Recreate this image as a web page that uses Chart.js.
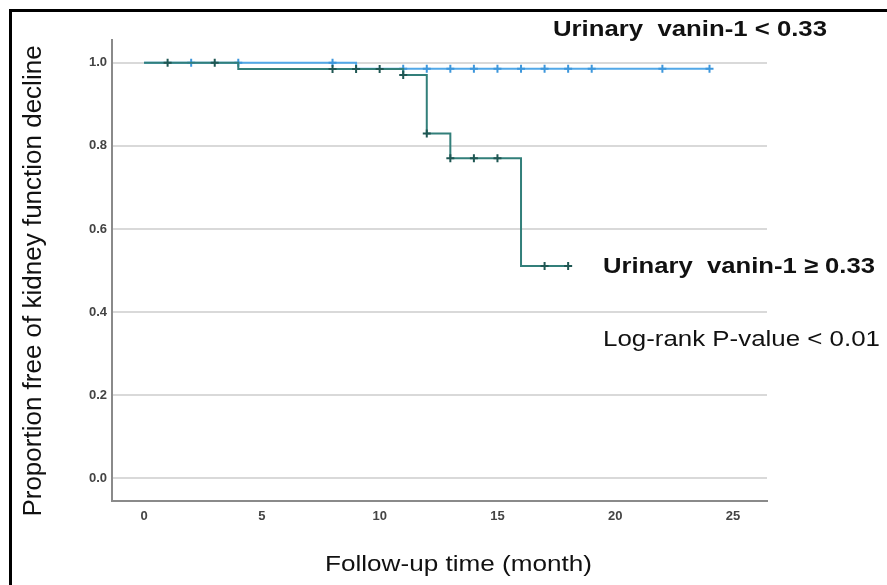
<!DOCTYPE html>
<html>
<head>
    <title>Kaplan-Meier: urinary vanin-1</title>
    <script src="https://cdn.jsdelivr.net/npm/chart.js@4.4.0/dist/chart.umd.min.js"></script>
    <style>
        body { margin: 0; background: #fff; }
        canvas { display: block; }
    </style>
</head>
<body>
    <canvas id="km" width="887" height="585"></canvas>

    <script>
        // Step curves (time in months, proportion free of decline)
        const lowTimes = [0, 9, 24];
        const lowSurv = [1.0, 0.986, 0.986];
        const highTimes = [0, 4, 11, 12, 13, 16, 18];
        const highSurv = [1.0, 0.985, 0.971, 0.83, 0.77, 0.511, 0.511];

        // Censored observations
        const lowCensor = [2, 4, 8, 11, 12, 13, 14, 15, 16, 17, 18, 19, 22, 24];
        const highCensor = [1, 3, 8, 9, 10, 11, 12, 13, 14, 15, 17, 18];

        // Axis ticks
        const xTicks = [0, 5, 10, 15, 20, 25];
        const yTicks = [0, 0.2, 0.4, 0.6, 0.8, 1.0];

        // survival value of a step curve at time t
        function survAt(times, surv, t) {
            let s = surv[0];
            for (let i = 0; i < times.length; i++) {
                if (times[i] <= t) s = surv[i];
            }
            return s;
        }

        const toPts = (xs, ys) => xs.map((x, i) => ({ x: x, y: ys[i] }));
        const censorPts = (cs, times, surv) => cs.map(t => ({ x: t, y: survAt(times, surv, t) }));

        const blue = '#52a8e8';
        const blueMark = '#3d97dc';
        const teal = '#327f7a';
        const tealMark = '#1f5753';
        const fontFam = '"Liberation Sans", Arial, sans-serif';

        // text squeezed/stretched to the width it has in the figure
        function stretchText(ctx, text, font, left, right, cy, color) {
            ctx.save();
            ctx.font = font;
            ctx.fillStyle = color;
            ctx.textBaseline = 'middle';
            ctx.textAlign = 'left';
            const w = ctx.measureText(text).width;
            ctx.translate(left, cy);
            ctx.scale((right - left) / w, 1);
            ctx.fillText(text, 0, 0);
            ctx.restore();
        }

        const decor = {
            id: 'decor',
            afterDraw(chart) {
                const ctx = chart.ctx;
                // frame
                ctx.save();
                ctx.strokeStyle = '#000';
                ctx.lineWidth = 3;
                ctx.beginPath();
                ctx.moveTo(10.5, 585);
                ctx.lineTo(10.5, 10.5);
                ctx.lineTo(887, 10.5);
                ctx.stroke();
                ctx.restore();

                // y title
                ctx.save();
                ctx.font = '26px ' + fontFam;
                ctx.fillStyle = '#111';
                ctx.textAlign = 'center';
                ctx.textBaseline = 'middle';
                ctx.translate(34, 281);
                ctx.rotate(-Math.PI / 2);
                ctx.fillText('Proportion free of kidney function decline', 0, 0);
                ctx.restore();

                stretchText(ctx, 'Follow-up time (month)', '22px ' + fontFam, 325, 592, 565, '#111');
                stretchText(ctx, 'Urinary  vanin-1 < 0.33', 'bold 22px ' + fontFam, 553, 827, 30, '#111');
                stretchText(ctx, 'Urinary  vanin-1 \u2265 0.33', 'bold 22px ' + fontFam, 603, 875, 267, '#111');
                stretchText(ctx, 'Log-rank P-value < 0.01', '22px ' + fontFam, 603, 880, 340, '#111');
            }
        };

        const config = {
            type: 'line',
            data: {
                datasets: [
                    {
                        label: 'Censored < 0.33',
                        data: censorPts(lowCensor, lowTimes, lowSurv),
                        showLine: false,
                        pointStyle: 'cross',
                        pointRadius: 4,
                        pointBorderWidth: 2,
                        borderColor: blueMark,
                        order: 3
                    },
                    {
                        label: 'Urinary vanin-1 < 0.33',
                        data: toPts(lowTimes, lowSurv),
                        stepped: 'before',
                        borderColor: blue,
                        borderWidth: 2,
                        pointRadius: 0,
                        fill: false,
                        order: 4
                    },
                    {
                        label: 'Censored >= 0.33',
                        data: censorPts(highCensor, highTimes, highSurv),
                        showLine: false,
                        pointStyle: 'cross',
                        pointRadius: 4,
                        pointBorderWidth: 2,
                        borderColor: tealMark,
                        order: 1
                    },
                    {
                        label: 'Urinary vanin-1 >= 0.33',
                        data: toPts(highTimes, highSurv),
                        stepped: 'before',
                        borderColor: teal,
                        borderWidth: 2,
                        pointRadius: 0,
                        fill: false,
                        order: 2
                    }
                ]
            },
            options: {
                responsive: false,
                animation: false,
                layout: { padding: { left: 0, right: 120, top: 40, bottom: 44 } },
                plugins: {
                    legend: { display: false },
                    tooltip: { enabled: false }
                },
                scales: {
                    x: {
                        type: 'linear',
                        min: -1.36,
                        max: 26.44,
                        afterBuildTicks: s => { s.ticks = xTicks.map(v => ({ value: v })); },
                        afterFit: s => { s.height = 40; },
                        grid: { drawOnChartArea: false, drawTicks: false },
                        border: { display: true, color: '#8a8a8a', width: 2 },
                        ticks: {
                            padding: 8,
                            color: '#444',
                            font: { family: fontFam, size: 13, weight: 'bold' }
                        }
                    },
                    y: {
                        type: 'linear',
                        min: -0.055,
                        max: 1.055,
                        afterBuildTicks: s => { s.ticks = yTicks.map(v => ({ value: v })); },
                        afterFit: s => { s.width = 112; },
                        grid: { color: '#d9d9d9', lineWidth: 2, drawTicks: false },
                        border: { display: true, color: '#8a8a8a', width: 2 },
                        ticks: {
                            padding: 5,
                            color: '#444',
                            font: { family: fontFam, size: 13, weight: 'bold' },
                            callback: v => v.toFixed(1)
                        }
                    }
                }
            },
            plugins: [decor]
        };

        new Chart(document.getElementById('km'), config);
    </script>
</body>
</html>
